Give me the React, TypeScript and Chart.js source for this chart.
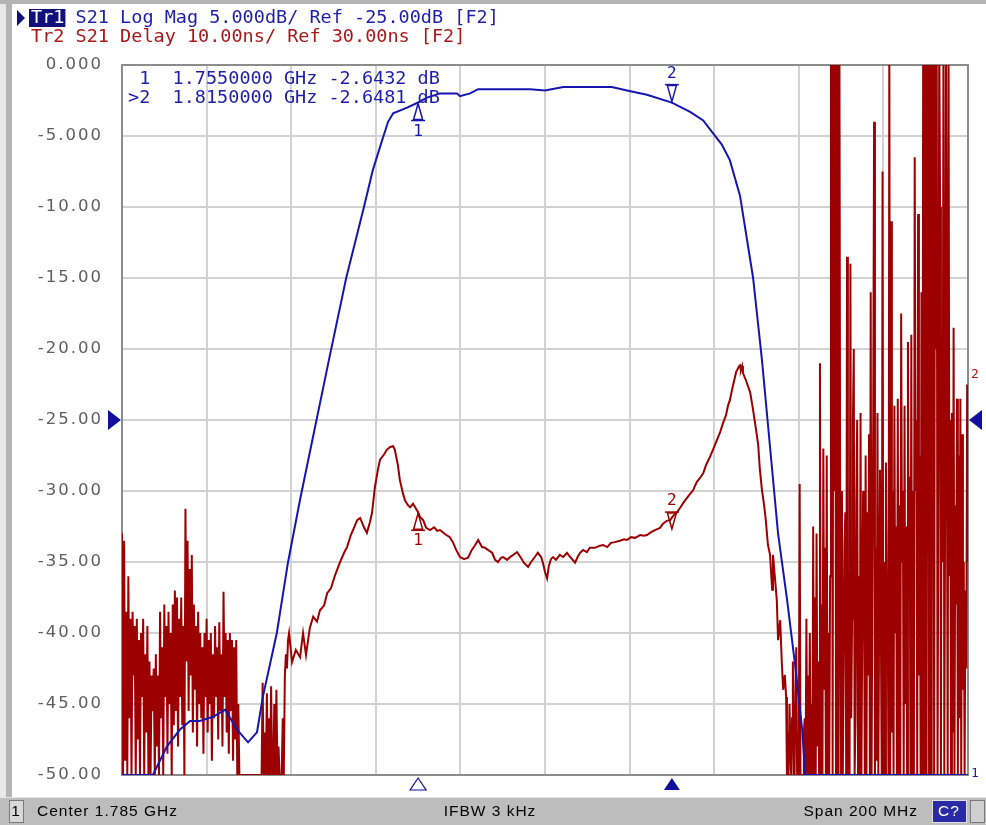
import { useEffect, useRef } from 'react';
import { Chart, registerables } from 'chart.js';

Chart.register(...registerables);

// ---- sweep / scale settings ----
const START_MHZ = 1685;
const STOP_MHZ = 1885;
const X_DIV_MHZ = 20;
const DB_MIN = -50;
const DB_MAX = 0;
const DB_DIV = 5;
const NS_MIN = -20;
const NS_MAX = 80;
const REF_DB = -25;

const yTickValues = [0, -5, -10, -15, -20, -25, -30, -35, -40, -45, -50];
const yTickLabels = ['0.000', '-5.000', '-10.00', '-15.00', '-20.00', '-25.00', '-30.00', '-35.00', '-40.00', '-45.00', '-50.00'];

// ---- Trace 1: S21 Log Mag (dB) ----
const s21Freq = [1685, 1692.3, 1695.6, 1698.7, 1701.1, 1703.4, 1706.5, 1709.4, 1712.2, 1714.8, 1716.9, 1718.3, 1721.6, 1724.2, 1727.1, 1733.9, 1738.0, 1742.2, 1744.3, 1746.5, 1747.9, 1749.1, 1752.4, 1755.0, 1757.1, 1760.2, 1764.2, 1764.9, 1767.3, 1769.2, 1781.5, 1785.0, 1789.3, 1800.8, 1804.4, 1809.1, 1815.0, 1819.3, 1822.4, 1824.7, 1826.8, 1828.7, 1831.1, 1834.2, 1836.3, 1838.2, 1840.1, 1842.2, 1844.1, 1845.8, 1846.5, 1885];
const s21Db = [-50, -50, -48.0, -46.8, -46.2, -46.2, -45.9, -45.4, -46.8, -47.7, -47.0, -44.5, -40.0, -35.1, -30.6, -20.8, -15.0, -10.0, -7.4, -5.3, -4.0, -3.4, -3.0, -2.64, -2.3, -2.0, -2.0, -2.2, -2.0, -1.7, -1.7, -1.8, -1.55, -1.55, -1.8, -2.1, -2.65, -3.3, -3.9, -4.8, -5.6, -6.7, -9.2, -15.0, -20.8, -26.9, -33.0, -37.6, -42.2, -46.8, -50, -50];

// ---- Trace 2: S21 group delay (ns) ----
// low-frequency noisy stretch, one value per sweep step
const delayLowStart = 1685;
const delayLowStep = 0.25;
const delayLowNs = [
  14, -20, 13, -18,
  3, -20, 8, -12, 2, -20, 3, -6,
  1, -20, 2, -15, -1, -20, 0, -9, 2, -20, -3, -14, 1, -20,
  -4, -20, -6, -11, -5, -20, -3, -16, -6, -20,
  3, -12, -2, -20, 4, -9, 1, -17, 3, -10, 0, -20, 4, -13,
  6, -11, 5, -16, 2, -9, 5, -13, 1, -20,
  17.5, -4,
  13, -11, 9, -6, 11,
  -14, 4, -8, 1, -16, 3, -10,
  0, -12, -2, -17, 0, -9, 2, -14, -1, -10, 0, -18,
  -3, -12, 1, -9, -2, -15, 1.5, -11, -3,
  -16, 5.8,
  -9, 0, -14, -1, -17, 0, -11, -1, -18, -2,
  -15, -1, -20, -10, -20,
  -20, -20, -20, -20, -20, -20, -20, -20, -20, -20, -20, -20, -20, -20, -20, -20, -20, -20, -20, -20, -20,
  -7, -20, -14, -20, -8.5, -20, -12, -20, -7.5, -20, -20, -10, -20, -8, -20, -16, -20, -20,
  -20, -12, -20, -6, -3, -5, -1, 0,
];
// passband stretch
const delayFreq = [1724.7, 1725.2, 1726.1, 1727.1, 1727.8, 1728.5, 1729.4, 1730.2, 1731.1, 1731.8, 1732.8, 1733.5, 1734.4, 1735.4, 1736.5, 1737.5, 1738.2, 1739.1, 1739.9, 1740.6, 1741.3, 1742.2, 1742.9, 1743.6, 1744.1, 1744.8, 1745.5, 1746.0, 1746.9, 1747.6, 1748.4, 1749.1, 1749.5, 1750.2, 1750.7, 1751.4, 1751.9, 1752.6, 1753.1, 1753.8, 1754.3, 1755.0, 1755.5, 1756.2, 1756.9, 1757.8, 1758.8, 1759.5, 1760.2, 1761.4, 1762.5, 1763.3, 1764.0, 1764.9, 1765.9, 1766.8, 1767.7, 1768.5, 1769.2, 1770.1, 1770.8, 1771.5, 1772.5, 1773.2, 1773.9, 1774.6, 1775.1, 1776.0, 1777.0, 1777.7, 1778.4, 1779.3, 1780.0, 1781.0, 1781.7, 1782.6, 1783.3, 1784.1, 1784.5, 1785.0, 1785.5, 1785.9, 1786.4, 1786.9, 1787.6, 1788.5, 1789.3, 1790.2, 1791.1, 1792.1, 1792.8, 1793.3, 1794.0, 1794.9, 1795.6, 1796.8, 1798.0, 1798.7, 1799.7, 1800.6, 1801.5, 1802.7, 1803.7, 1804.4, 1805.3, 1806.3, 1807.5, 1808.4, 1809.1, 1810.1, 1811.0, 1812.2, 1812.9, 1813.8, 1814.6, 1815.3, 1816.2, 1816.9, 1817.9, 1818.8, 1820.0, 1820.9, 1821.6, 1822.4, 1823.1, 1824.0, 1824.7, 1825.4, 1826.4, 1827.1, 1827.8, 1828.3, 1828.7, 1829.2, 1829.7, 1830.2, 1830.4, 1830.9, 1831.1, 1831.3, 1831.6, 1831.8, 1832.5, 1833.5, 1834.2, 1834.9, 1835.4, 1835.8, 1836.3, 1836.8, 1837.2, 1837.7, 1838.2, 1838.7, 1838.9, 1839.4, 1839.8, 1840.1, 1840.6, 1841.0, 1841.3, 1841.7];
const delayNs = [0.0, -4.1, -2.4, -3.4, 0.0, -3.1, 0.7, 2.3, 1.6, 3.2, 3.9, 5.6, 6.3, 8.2, 9.9, 11.3, 12.1, 13.8, 14.9, 15.9, 16.2, 14.9, 14.1, 15.6, 16.9, 20.6, 23.0, 24.4, 25.1, 25.8, 26.2, 26.3, 25.8, 23.7, 21.5, 19.7, 18.7, 18.0, 17.7, 18.2, 17.7, 17.0, 16.3, 15.9, 14.8, 14.5, 14.9, 14.4, 14.5, 13.9, 13.5, 12.7, 11.7, 10.7, 10.4, 10.6, 11.7, 12.4, 13.1, 12.1, 12.0, 11.7, 11.3, 10.3, 10.0, 10.6, 10.7, 10.3, 10.8, 11.1, 11.4, 10.6, 9.9, 9.3, 10.0, 10.7, 11.3, 10.7, 9.9, 8.6, 7.7, 9.4, 10.4, 10.7, 10.3, 11.0, 10.7, 11.3, 10.6, 9.9, 10.8, 11.3, 11.7, 11.4, 12.0, 12.0, 12.3, 12.4, 12.1, 12.7, 12.8, 13.0, 13.2, 13.1, 13.5, 13.4, 13.8, 13.7, 13.8, 14.2, 14.5, 14.8, 15.4, 15.8, 15.9, 16.5, 17.0, 17.6, 18.5, 19.2, 20.1, 21.3, 21.8, 22.5, 23.7, 24.8, 25.8, 26.8, 28.3, 29.6, 30.7, 32.1, 32.8, 34.2, 35.5, 36.8, 37.0, 37.6, 37.7, 37.0, 37.6, 36.6, 35.6, 33.9, 31.4, 28.6, 26.5, 23.0, 20.1, 18.0, 15.9, 12.4, 11.0, 6.1, 11.0, 7.5, 4.6, -1.0, 1.8, -4.4, -8.0, -5.9];
// high-frequency noisy stretch, one value per sweep step
const delayHighStart = 1842;
const delayHighStep = 0.2;
const delayHighNs = [
  -9, -20, -14, -20, -10, -16, -20, -12, -4, -20, -20, -8, -2, -20, -14, -20,
  21, -20, -20, -20, -20, -14, -12, -20, 2, -20, -6, -20, 0, -20, -10, -20,
  15, -20, 5, -20, 14, -16, -4, -20, 38, -20, 4, -20, 26, -8, 12, -20,
  25, -20, 0, -20, 8, 85, 85, -20, 85, 20, 85, -20, 85, 85, -20, 85,
  10, -20, 20, -20, -5, 12, 17, -20, 53, -20, 8, -20, 52, -12, 2, 30,
  40, -20, -12, 18, 30, -20, 8, -20, 31, -20, 0, 20, 10, -20, 25, -20,
  17, -6, 28, -20, 48, -20, 8, 30, 72, -20, 12, -18, 31, -20, 2, 23,
  23, -20, 65, -20, 10, -20, 24, 6, 6, -20, 85, -20, 58, -14, 20, -20,
  32, 0, 15, -20, 33, -20, 18, -20, 45, 10, 20, -20, 32, -10, 15, -20,
  41, 5, 22, -20, 42, -20, 20, -20, 67, 20, 30, -20, 59, -6, 25, -20,
  48, -20, 85, -20, 85, 85, -20, 85, 85, -20, 85, 85, -20, 85, 85, -20,
  85, 40, 85, -20, 20, 85, 60, -20, 42, 10, 85, -20, 20, 85, 85, -20,
  85, 8, 30, -20, 31, -14, 43, -20, 18, 4, 33, -20, 25, -12, 33, -20,
  28, -8, 10, -20, 6, -5, 35, 10,
];

// ---- markers ----
const markerFreq = [1755, 1815];
const markerDb = [-2.6432, -2.6481];
const markerNs = [17.0, 14.5];
const markerNames = ['1', '2'];
const markerReadout = [' 1  1.7550000 GHz -2.6432 dB', '>2  1.8150000 GHz -2.6481 dB'];

// ---- annotation texts ----
const titleTr1Tag = 'Tr1';
const titleTr1Rest = ' S21 Log Mag 5.000dB/ Ref -25.00dB [F2]';
const titleTr2 = 'Tr2 S21 Delay 10.00ns/ Ref 30.00ns [F2]';
const statusChannel = '1';
const statusCenter = 'Center 1.785 GHz';
const statusIfbw = 'IFBW 3 kHz';
const statusSpan = 'Span 200 MHz';
const statusCal = 'C?';

const BLUE = '#1616ae';
const RED = '#9c0000';
const TXT_BLUE = '#1e1ea6';
const TXT_RED = '#a81818';
const MONO = '"DejaVu Sans Mono", "Liberation Mono", monospace';
const SANS = '"Liberation Sans", Arial, sans-serif';

function buildDelayPoints() {
  const pts: { x: number; y: number }[] = [];
  delayLowNs.forEach((v, i) => pts.push({ x: delayLowStart + i * delayLowStep, y: v }));
  delayFreq.forEach((f, i) => pts.push({ x: f, y: delayNs[i] }));
  delayHighNs.forEach((v, i) => pts.push({ x: delayHighStart + i * delayHighStep, y: v }));
  return pts;
}

function triUp(ctx: CanvasRenderingContext2D, x: number, y: number, hw: number, h: number, fill: boolean) {
  ctx.beginPath();
  ctx.moveTo(x, y);
  ctx.lineTo(x - hw, y + h);
  ctx.lineTo(x + hw, y + h);
  ctx.closePath();
  if (fill) ctx.fill();
  else ctx.stroke();
}
function triDown(ctx: CanvasRenderingContext2D, x: number, y: number, hw: number, h: number, fill: boolean) {
  ctx.beginPath();
  ctx.moveTo(x, y);
  ctx.lineTo(x - hw, y - h);
  ctx.lineTo(x + hw, y - h);
  ctx.closePath();
  if (fill) ctx.fill();
  else ctx.stroke();
}

const vnaPlugin = {
  id: 'vna',
  beforeDraw(chart: any) {
    const ctx: CanvasRenderingContext2D = chart.ctx;
    const W = chart.width;
    const H = chart.height;
    ctx.save();
    ctx.fillStyle = '#ffffff';
    ctx.fillRect(0, 0, W, H);
    ctx.fillStyle = '#b4b4b4';
    ctx.fillRect(0, 0, W, 4);
    ctx.fillRect(6, 0, 6, H);
    ctx.fillStyle = '#e8e8e8';
    ctx.fillRect(0, 4, 6, H);
    ctx.restore();
    (ctx as any).letterSpacing = '2px';
  },
  beforeDatasetsDraw(chart: any) {
    const ctx: CanvasRenderingContext2D = chart.ctx;
    (ctx as any).letterSpacing = '0px';
    const a = chart.chartArea;
    ctx.save();
    ctx.strokeStyle = '#8c8c8c';
    ctx.lineWidth = 2;
    ctx.strokeRect(a.left, a.top, a.right - a.left, a.bottom - a.top);
    ctx.restore();
  },
  afterDatasetsDraw(chart: any) {
    const ctx: CanvasRenderingContext2D = chart.ctx;
    const a = chart.chartArea;
    const xs = chart.scales.x;
    const ys = chart.scales.y;
    const y2 = chart.scales.y2;
    ctx.save();
    ctx.lineWidth = 1.5;
    ctx.textAlign = 'center';
    ctx.textBaseline = 'middle';
    ctx.font = `16px ${MONO}`;
    const traces = [
      { color: BLUE, vals: markerDb, scale: ys },
      { color: RED, vals: markerNs, scale: y2 },
    ];
    traces.forEach((t) => {
      markerFreq.forEach((f, i) => {
        const px = xs.getPixelForValue(f);
        const py = t.scale.getPixelForValue(t.vals[i]);
        ctx.strokeStyle = t.color;
        ctx.fillStyle = t.color;
        if (i === 0) {
          triUp(ctx, px, py + 1, 4.5, 16, false);
          ctx.beginPath();
          ctx.moveTo(px - 7, py + 18);
          ctx.lineTo(px + 7, py + 18);
          ctx.stroke();
          ctx.fillText(markerNames[i], px, py + 29);
        } else {
          triDown(ctx, px, py - 1, 4.5, 16, false);
          ctx.beginPath();
          ctx.moveTo(px - 7, py - 18);
          ctx.lineTo(px + 7, py - 18);
          ctx.stroke();
          ctx.fillText(markerNames[i], px, py - 29);
        }
      });
    });
    // stimulus markers on the bottom edge
    markerFreq.forEach((f, i) => {
      const px = xs.getPixelForValue(f);
      ctx.fillStyle = '#10109c';
      ctx.strokeStyle = '#10109c';
      ctx.lineWidth = 1.2;
      triUp(ctx, px, a.bottom + 3, 8, 12, i === 1);
    });
    // reference level arrows
    const refY = ys.getPixelForValue(REF_DB);
    ctx.fillStyle = '#10109c';
    ctx.beginPath();
    ctx.moveTo(a.left - 1, refY);
    ctx.lineTo(a.left - 14, refY - 10);
    ctx.lineTo(a.left - 14, refY + 10);
    ctx.closePath();
    ctx.fill();
    ctx.beginPath();
    ctx.moveTo(a.right + 1, refY);
    ctx.lineTo(a.right + 14, refY - 10);
    ctx.lineTo(a.right + 14, refY + 10);
    ctx.closePath();
    ctx.fill();
    ctx.font = `13px ${MONO}`;
    ctx.textAlign = 'left';
    ctx.fillStyle = TXT_RED;
    ctx.fillText('2', a.right + 3, ys.getPixelForValue(-21.8));
    ctx.fillStyle = TXT_BLUE;
    ctx.fillText('1', a.right + 3, a.bottom - 1);
    // marker readout
    ctx.font = `18.5px ${MONO}`;
    ctx.fillStyle = TXT_BLUE;
    markerReadout.forEach((s, i) => ctx.fillText(s, a.left + 6, a.top + 14 + i * 19));
    ctx.restore();
  },
  afterDraw(chart: any) {
    const ctx: CanvasRenderingContext2D = chart.ctx;
    const W = chart.width;
    const H = chart.height;
    ctx.save();
    (ctx as any).letterSpacing = '0px';
    // title
    ctx.font = `18.5px ${MONO}`;
    ctx.textBaseline = 'middle';
    ctx.textAlign = 'left';
    ctx.fillStyle = '#10107c';
    ctx.beginPath();
    ctx.moveTo(17, 10);
    ctx.lineTo(25, 18);
    ctx.lineTo(17, 26);
    ctx.closePath();
    ctx.fill();
    const cw = ctx.measureText('M').width;
    ctx.fillRect(29, 9, 3 * cw + 3, 18);
    ctx.fillStyle = '#ffffff';
    ctx.fillText(titleTr1Tag, 31, 18);
    ctx.fillStyle = TXT_BLUE;
    ctx.fillText(titleTr1Rest, 31 + 3 * cw, 18);
    ctx.fillStyle = TXT_RED;
    ctx.fillText(titleTr2, 31, 37);
    // status bar
    const sy = 797;
    ctx.fillStyle = '#bdbdbd';
    ctx.fillRect(0, sy, W, H - sy);
    ctx.fillStyle = '#e6e6e6';
    ctx.fillRect(0, sy, W, 1);
    ctx.fillStyle = '#d8d8d8';
    ctx.fillRect(9, sy + 3, 14, 22);
    ctx.strokeStyle = '#7a7a7a';
    ctx.lineWidth = 1;
    ctx.strokeRect(9.5, sy + 3.5, 14, 22);
    ctx.font = `15.5px ${SANS}`;
    (ctx as any).letterSpacing = '1px';
    ctx.fillStyle = '#000000';
    ctx.textAlign = 'center';
    ctx.fillText(statusChannel, 16, sy + 15);
    ctx.textAlign = 'left';
    ctx.fillText(statusCenter, 37, sy + 15);
    ctx.textAlign = 'center';
    ctx.fillText(statusIfbw, 490, sy + 15);
    ctx.textAlign = 'right';
    ctx.fillText(statusSpan, 918, sy + 15);
    ctx.fillStyle = '#2a2aa6';
    ctx.fillRect(932, sy + 3, 34, 22);
    ctx.strokeStyle = '#e0e0e0';
    ctx.strokeRect(932.5, sy + 3.5, 34, 22);
    ctx.fillStyle = '#ffffff';
    ctx.textAlign = 'center';
    ctx.fillText(statusCal, 949, sy + 15);
    (ctx as any).letterSpacing = '0px';
    ctx.fillStyle = '#d0d0d0';
    ctx.fillRect(970, sy + 3, 14, 22);
    ctx.strokeStyle = '#7a7a7a';
    ctx.strokeRect(970.5, sy + 3.5, 14, 22);
    ctx.restore();
  },
};

export default function App() {
  const ref = useRef<HTMLCanvasElement | null>(null);
  useEffect(() => {
    if (!ref.current) return;
    const chart = new Chart(ref.current, {
      type: 'line',
      data: {
        datasets: [
          {
            label: 'S21 Log Mag',
            data: s21Freq.map((f, i) => ({ x: f, y: s21Db[i] })),
            borderColor: BLUE,
            borderWidth: 2,
            pointRadius: 0,
            tension: 0,
            yAxisID: 'y',
          },
          {
            label: 'S21 Delay',
            data: buildDelayPoints(),
            borderColor: RED,
            borderWidth: 2,
            pointRadius: 0,
            tension: 0,
            yAxisID: 'y2',
          },
        ],
      },
      options: {
        animation: false,
        responsive: false,
        devicePixelRatio: 1,
        layout: { padding: { left: 0, right: 18, top: 65, bottom: 50 } },
        plugins: { legend: { display: false }, tooltip: { enabled: false } },
        scales: {
          x: {
            type: 'linear',
            min: START_MHZ,
            max: STOP_MHZ,
            afterBuildTicks: (s: any) => {
              const t = [];
              for (let v = START_MHZ; v <= STOP_MHZ; v += X_DIV_MHZ) t.push({ value: v });
              s.ticks = t;
            },
            afterFit: (s: any) => {
              s.height = 0;
            },
            ticks: { display: false },
            grid: { color: '#d2d2d2', lineWidth: 2, drawTicks: false },
            border: { display: false },
          },
          y: {
            type: 'linear',
            position: 'left',
            min: DB_MIN,
            max: DB_MAX,
            ticks: {
              stepSize: DB_DIV,
              padding: 19,
              color: '#5e5e5e',
              font: { family: '"DejaVu Sans", Verdana, sans-serif', size: 16.5 },
              callback: (v: any) => {
                const i = yTickValues.indexOf(Number(v));
                return i >= 0 ? yTickLabels[i] : '';
              },
            },
            afterFit: (s: any) => {
              s.width = 122;
            },
            grid: { color: '#d2d2d2', lineWidth: 2, drawTicks: false },
            border: { display: false },
          },
          y2: {
            type: 'linear',
            display: false,
            min: NS_MIN,
            max: NS_MAX,
          },
        },
      },
      plugins: [vnaPlugin],
    });
    return () => chart.destroy();
  }, []);
  return (
    <div style={{ position: 'absolute', left: 0, top: 0, width: 986, height: 825, background: '#fff' }}>
      <canvas ref={ref} width={986} height={825} style={{ display: 'block', width: 986, height: 825 }} />
    </div>
  );
}
